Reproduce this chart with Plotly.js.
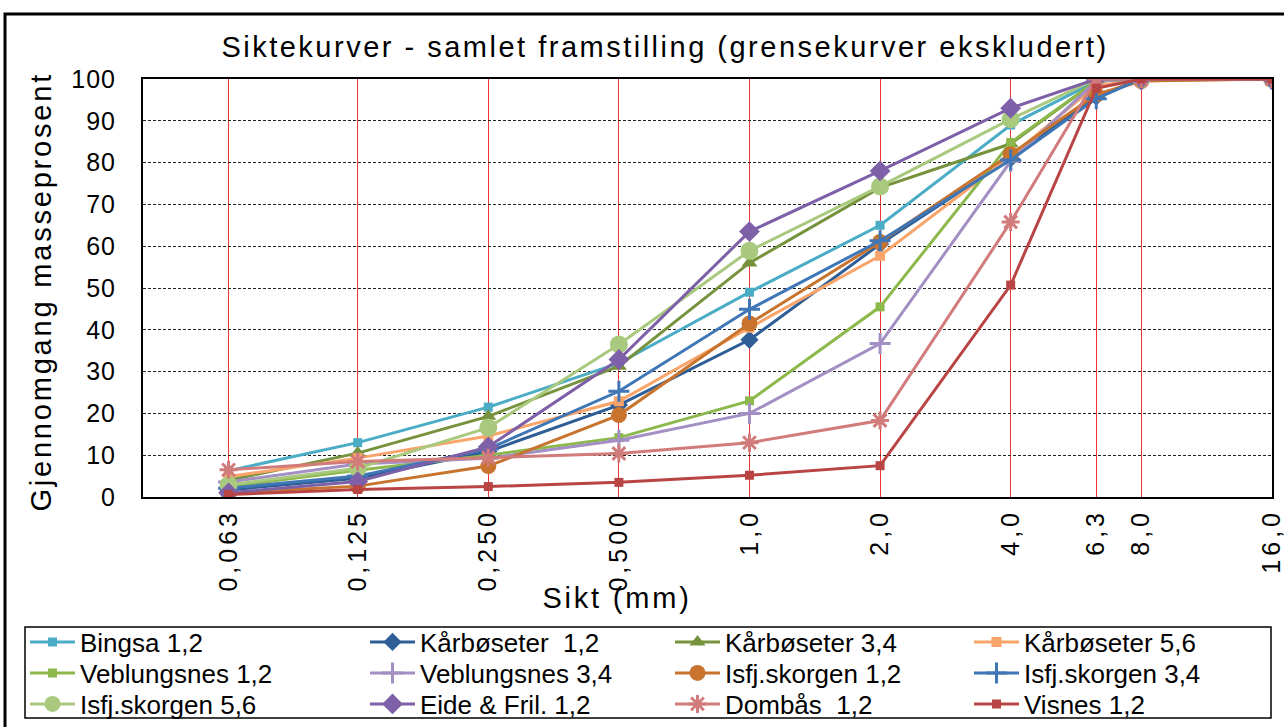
<!DOCTYPE html>
<html><head><meta charset="utf-8">
<script src="https://cdn.plot.ly/plotly-3.0.1.min.js"></script>
<style>
html,body{margin:0;padding:0;background:#fff;}
</style></head>
<body><div id="chart" style="width:1284px;height:727px;"></div>
<script>
// Sieve sizes (mm) and their tick labels
const sieveSizes = [0.063, 0.125, 0.25, 0.5, 1, 2, 4, 6.3, 8, 16];
const sieveLabels = ['0,063', '0,125', '0,250', '0,500', '1,0', '2,0', '4,0', '6,3', '8,0', '16,0'];
const yTicks = [0, 10, 20, 30, 40, 50, 60, 70, 80, 90, 100];

const seriesNames = ['Bingsa 1,2', 'Kårbøseter  1,2', 'Kårbøseter 3,4', 'Kårbøseter 5,6',
  'Veblungsnes 1,2', 'Veblungsnes 3,4', 'Isfj.skorgen 1,2', 'Isfj.skorgen 3,4',
  'Isfj.skorgen 5,6', 'Eide & Fril. 1,2', 'Dombås  1,2', 'Visnes 1,2'];

// Passing percentages
const bingsa12      = [6.3, 13.0, 21.5, 32.0, 49.0, 65.0, 89.0, 99.5, 100, 100];
const kaarboseter12 = [1.7, 4.5, 10.9, 22.0, 37.6, 60.5, 81.0, 95.8, 100, 100];
const kaarboseter34 = [4.0, 10.5, 19.3, 31.3, 56.0, 74.0, 84.5, 99.5, 100, 100];
const kaarboseter56 = [4.9, 9.3, 14.6, 22.9, 40.5, 57.7, 81.5, 98.5, 99.6, 100];
const veblungsnes12 = [2.5, 6.4, 10.0, 14.2, 23.0, 45.5, 84.8, 99.5, 100, 100];
const veblungsnes34 = [3.6, 7.9, 9.3, 13.6, 20.0, 36.7, 80.3, 99.5, 100, 100];
const isfjskorgen12 = [1.0, 2.6, 7.4, 19.6, 41.5, 61.0, 82.0, 96.3, 99.5, 100];
const isfjskorgen34 = [2.1, 5.0, 11.5, 25.3, 44.9, 61.3, 80.6, 95.3, 100, 100];
const isfjskorgen56 = [2.9, 6.9, 16.6, 36.5, 58.9, 74.3, 90.4, 100, 100, 100];
const eideFril12    = [1.0, 3.7, 12.0, 32.9, 63.5, 78.0, 93.0, 100, 100, 100];
const dombaas12     = [6.5, 8.5, 9.4, 10.4, 13.0, 18.3, 65.8, 100, 100, 100];
const visnes12      = [0.6, 1.8, 2.5, 3.5, 5.2, 7.5, 50.7, 97.8, 100, 100];

const seriesValues = [bingsa12, kaarboseter12, kaarboseter34, kaarboseter56, veblungsnes12,
  veblungsnes34, isfjskorgen12, isfjskorgen34, isfjskorgen56, eideFril12, dombaas12, visnes12];

const seriesColors = ['#4BACC6', '#2E5E95', '#76923C', '#F9A46A', '#8DB84C', '#A48FC4',
  '#C8742E', '#3F76B6', '#A9C97E', '#7D60A8', '#D17B7B', '#B94444'];
const seriesSymbols = ['square', 'diamond', 'triangle-up', 'square', 'square', 'cross-thin-open',
  'circle', 'cross-thin-open', 'circle', 'diamond', 'asterisk-open', 'square'];
const seriesSizes = [9, 14, 14, 10, 9, 15, 16, 15, 18, 16, 15, 9];

// layout geometry (pixels)
const W = 1284, H = 727, ML = 143, MR = 12, MT = 79, MB = 230;
const PW = W - ML - MR, PH = H - MT - MB;
const px = v => (v - ML) / PW;
const py = v => (H - MB - v) / PH;

const legendTextX = [82, 422, 727, 1026];
const legendRowY = [642, 673, 704];

const traces = seriesNames.map((name, i) => {
  const open = seriesSymbols[i].indexOf('open') >= 0;
  return {
    type: 'scatter', mode: 'lines+markers', name: name,
    x: sieveSizes, y: seriesValues[i],
    legend: i === 0 ? 'legend' : 'legend' + (i + 1),
    line: {color: seriesColors[i], width: 3},
    marker: {symbol: seriesSymbols[i], size: seriesSizes[i], color: seriesColors[i],
      line: {color: seriesColors[i], width: open ? 3 : 0}}
  };
});

const layout = {
  width: W, height: H,
  margin: {l: ML, r: MR, t: MT, b: MB, autoexpand: false},
  paper_bgcolor: '#fff', plot_bgcolor: '#fff',
  font: {family: 'Liberation Sans, Arial, sans-serif', color: '#000'},
  title: {text: 'Siktekurver - samlet framstilling (grensekurver ekskludert)',
    font: {size: 29, color: '#000'}, x: 665 / W, xref: 'container', xanchor: 'center',
    y: 1 - 47 / H, yref: 'container', yanchor: 'middle'},
  xaxis: {type: 'log', range: [Math.log10(0.04), Math.log10(16.01)],
    tickmode: 'array', tickvals: sieveSizes, ticktext: sieveLabels, tickangle: -90,
    tickfont: {size: 25, color: '#000'}, ticks: '', ticklabeloverflow: 'allow',
    showgrid: true, gridcolor: '#F03535', gridwidth: 1,
    showline: true, linecolor: '#000', linewidth: 2, mirror: true, zeroline: false},
  yaxis: {range: [0, 100], tickmode: 'array', tickvals: yTicks,
    tickfont: {size: 25, color: '#000'}, ticks: '', ticklabelstandoff: 20,
    showgrid: true, gridcolor: '#222', gridwidth: 1, griddash: '3px,2px',
    showline: true, linecolor: '#000', linewidth: 2, mirror: true, zeroline: false},
  annotations: [
    {text: 'Sikt (mm)', xref: 'paper', yref: 'paper', x: px(617), y: py(598),
      xanchor: 'center', yanchor: 'middle', showarrow: false, font: {size: 29, color: '#000'}},
    {text: 'Gjennomgang masseprosent', xref: 'paper', yref: 'paper', x: px(41), y: py(292),
      xanchor: 'center', yanchor: 'middle', textangle: -90, showarrow: false,
      font: {size: 29, color: '#000'}}
  ],
  shapes: [
    {type: 'rect', xref: 'paper', yref: 'paper', x0: px(5), x1: px(1300), y0: py(745), y1: py(14),
      line: {color: '#000', width: 3}},
    {type: 'rect', xref: 'paper', yref: 'paper', x0: px(25), x1: px(1271), y0: py(718), y1: py(627),
      line: {color: '#000', width: 1.5}}
  ],
  showlegend: true
};

seriesNames.forEach((name, i) => {
  const key = i === 0 ? 'legend' : 'legend' + (i + 1);
  layout[key] = {
    x: px(legendTextX[i % 4] - 57), xanchor: 'left',
    y: py(legendRowY[Math.floor(i / 4)]), yanchor: 'middle',
    orientation: 'v', bgcolor: 'rgba(0,0,0,0)', borderwidth: 0,
    itemwidth: 45, font: {size: 26, color: '#000'}
  };
});

function spaceText() {
  const set = (sel, v) => document.querySelectorAll(sel).forEach(el => { el.style.letterSpacing = v; });
  set('#chart .gtitle', '2.5px');
  set('#chart .annotation-text', '2.8px');
  set('#chart .xtick text', '4px');
  set('#chart .ytick text', '1px');
}

Plotly.newPlot('chart', traces, layout, {displayModeBar: false, staticPlot: true}).then(spaceText);
</script>
</body></html>
